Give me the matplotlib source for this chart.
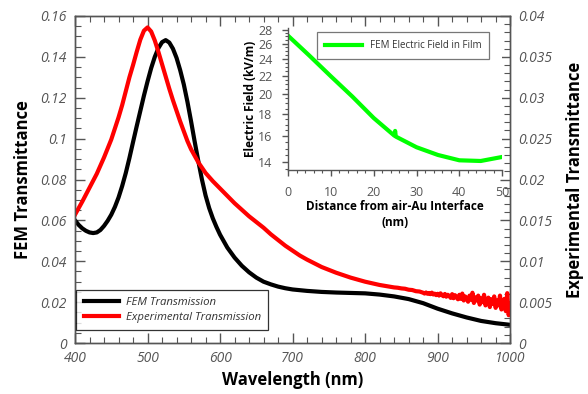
import matplotlib
matplotlib.use("Agg")
import matplotlib.pyplot as plt
from matplotlib.ticker import MultipleLocator, FormatStrFormatter, FuncFormatter, FixedLocator, NullFormatter

plt.rcParams['font.family'] = ['Open Sans', 'DejaVu Sans']

# ---- Data ----
fem_wl = [400, 405, 410, 415, 420, 425, 430, 435, 440, 445, 450, 455, 460, 465, 470, 475,
          480, 485, 490, 495, 500, 505, 510, 515, 520, 525, 530, 535, 540, 545, 550, 555,
          560, 565, 570, 575, 580, 585, 590, 595, 600, 610, 620, 630, 640, 650, 660, 670,
          680, 690, 700, 720, 740, 760, 780, 800, 820, 840, 860, 880, 900, 920, 940, 960,
          980, 1000]
fem_t = [0.0600, 0.0578, 0.0561, 0.0549, 0.0541, 0.0538, 0.0541, 0.0553, 0.0573, 0.0598,
         0.0628, 0.0666, 0.0712, 0.0768, 0.0832, 0.0905, 0.0983, 0.1060, 0.1135, 0.1210,
         0.1280, 0.1345, 0.1400, 0.1443, 0.1472, 0.1482, 0.1470, 0.1440, 0.1395, 0.1335,
         0.1265, 0.1180, 0.1085, 0.0985, 0.0890, 0.0800, 0.0722, 0.0660, 0.0610, 0.0568,
         0.0530, 0.0467, 0.0418, 0.0378, 0.0346, 0.0320, 0.0300, 0.0287, 0.0276, 0.0268,
         0.0262, 0.0255, 0.0250, 0.0247, 0.0245, 0.0243, 0.0237, 0.0228, 0.0215, 0.0195,
         0.0168, 0.0145, 0.0125, 0.0108, 0.0097, 0.0089]

exp_wl = [400, 410, 420, 430, 440, 450, 460, 465, 470, 475, 480, 485, 490, 495, 500, 505,
          510, 515, 520, 525, 530, 535, 540, 545, 550, 555, 560, 570, 580, 590, 600, 610,
          620, 630, 640, 650, 660, 670, 680, 690, 700, 710, 720, 740, 760, 780, 800, 820,
          840, 845, 850, 855, 860, 865, 870, 875,
          880, 882, 884, 886, 888, 890, 892, 894, 896, 898, 900, 902, 904, 906, 908, 910,
          912, 914, 916, 918, 920, 922, 924, 926, 928, 930, 932, 934, 936, 938, 940, 942,
          944, 946, 948, 950, 952, 954, 956, 958, 960, 962, 964, 966, 968, 970, 972, 974,
          976, 978, 980, 982, 984, 986, 988, 990, 992, 994, 996, 998, 1000]
exp_t = [0.0157, 0.0173, 0.0190, 0.0207, 0.0227, 0.0249, 0.0276, 0.0291, 0.0308, 0.0325,
         0.0340, 0.0356, 0.0371, 0.0382, 0.0386, 0.0381, 0.0370, 0.0356, 0.0341, 0.0326,
         0.0311, 0.0297, 0.0284, 0.0271, 0.0259, 0.0247, 0.0237, 0.0221, 0.0208, 0.0198,
         0.0189, 0.0180, 0.0171, 0.0163, 0.0155, 0.0148, 0.0141, 0.0133, 0.0126, 0.0119,
         0.0113, 0.0107, 0.0102, 0.0093, 0.0086, 0.0080, 0.0075, 0.0071,
         0.00680, 0.00676, 0.00668, 0.00664, 0.00652, 0.00648, 0.00634, 0.00630,
         0.00615, 0.00605, 0.00618, 0.00602, 0.00612, 0.00598, 0.00616, 0.00594, 0.00604,
         0.00586, 0.00602, 0.00580, 0.00608, 0.00585, 0.00572, 0.00600, 0.00566, 0.00590,
         0.00575, 0.00552, 0.00598, 0.00548, 0.00585, 0.00560, 0.00535, 0.00590, 0.00540,
         0.00605, 0.00520, 0.00570, 0.00545, 0.00505, 0.00580, 0.00530, 0.00615, 0.00490,
         0.00560, 0.00520, 0.00580, 0.00470, 0.00545, 0.00500, 0.00590, 0.00460, 0.00530,
         0.00555, 0.00440, 0.00535, 0.00480, 0.00570, 0.00430, 0.00520, 0.00460, 0.00580,
         0.00410, 0.00500, 0.00540, 0.00390, 0.00610, 0.00340, 0.00480]

dist_nm = [0, 5, 10, 15, 20, 24.8, 25.0, 25.15, 30, 35, 40, 45, 50]
efield = [27.1, 24.4, 21.9, 19.7, 17.6, 16.05, 16.45, 15.97, 15.1, 14.5, 14.1, 14.05, 14.35]

# ---- Figure ----
fig = plt.figure(figsize=(5.88, 3.94), dpi=100)
ax = fig.add_axes([0.1276, 0.1294, 0.740, 0.830])
ax2 = ax.twinx()

spine_c = '#555555'
tick_c = '#555555'

l1, = ax.plot(fem_wl, fem_t, color='black', lw=3.0, label='FEM Transmission',
              solid_joinstyle='round')
l2, = ax2.plot(exp_wl, exp_t, color='#ff0000', lw=3.0, label='Experimental Transmission',
               solid_joinstyle='round')

ax.set_xlim(400, 1000)
ax.set_ylim(0, 0.16)
ax2.set_ylim(0, 0.04)

ax.xaxis.set_major_locator(MultipleLocator(100))
ax.xaxis.set_minor_locator(MultipleLocator(20))
ax.yaxis.set_major_locator(MultipleLocator(0.02))
ax.yaxis.set_minor_locator(MultipleLocator(0.005))
ax2.yaxis.set_major_locator(MultipleLocator(0.005))
ax2.yaxis.set_minor_locator(MultipleLocator(0.001))

fmt = FuncFormatter(lambda v, p: ('%g' % round(v, 6)))
ax.yaxis.set_major_formatter(fmt)
ax2.yaxis.set_major_formatter(fmt)
ax.xaxis.set_major_formatter(fmt)

for a in (ax, ax2):
    for s in a.spines.values():
        s.set_color(spine_c)
        s.set_linewidth(1.0)

ax.tick_params(axis='x', which='both', direction='in', top=True, bottom=True, colors=spine_c,
               labelcolor=tick_c, labelsize=10, pad=6)
ax.tick_params(axis='y', which='both', direction='in', left=True, right=False, colors=spine_c,
               labelcolor=tick_c, labelsize=10, pad=6)
ax2.tick_params(axis='y', which='both', direction='in', right=True, colors=spine_c,
                labelcolor=tick_c, labelsize=10, pad=6)
for a in (ax, ax2):
    a.tick_params(which='major', length=7, width=1.0)
    a.tick_params(which='minor', length=4, width=0.8)
for lab in ax.get_xticklabels() + ax.get_yticklabels() + ax2.get_yticklabels():
    lab.set_fontstyle('italic')

ax.set_xlabel('Wavelength (nm)', fontsize=12, fontweight='bold', labelpad=3)
ax.set_ylabel('FEM Transmittance', fontsize=12, fontweight='bold', labelpad=6)
ax2.set_ylabel('Experimental Transmittance', fontsize=12, fontweight='bold', labelpad=10,
               rotation=90)

leg = ax2.legend(handles=[l1, l2], loc='lower left', bbox_to_anchor=(0.003, 0.04),
                 fontsize=8.2, frameon=True, fancybox=False, handlelength=3.1,
                 borderpad=0.65, labelspacing=0.3, handletextpad=0.6, borderaxespad=0.0)
leg.get_frame().set_edgecolor('black')
leg.get_frame().set_linewidth(0.9)
for t in leg.get_texts():
    t.set_fontstyle('italic')
    t.set_color('#333333')

# ---- Inset ----
ins = fig.add_axes([0.490, 0.5685, 0.364, 0.360])
ins.plot(dist_nm, efield, color='#00ff00', lw=3.0, label='FEM Electric Field in Film')
ins.set_yscale('log')
ins.set_xlim(0, 50)
ins.set_ylim(13.4, 28.2)
ins.yaxis.set_major_locator(FixedLocator([14, 16, 18, 20, 22, 24, 26, 28]))
ins.yaxis.set_major_formatter(FormatStrFormatter('%d'))
ins.yaxis.set_minor_locator(FixedLocator([13.5 + 0.5 * i for i in range(30) if (13.5 + 0.5 * i) % 2 != 0]))
ins.yaxis.set_minor_formatter(NullFormatter())
ins.xaxis.set_major_locator(MultipleLocator(10))
ins.xaxis.set_minor_locator(MultipleLocator(2))
ins.spines['top'].set_visible(False)
ins.spines['right'].set_visible(False)
for s in ('left', 'bottom'):
    ins.spines[s].set_color('#555555')
    ins.spines[s].set_linewidth(1.0)
ins.tick_params(which='both', direction='out', colors='#555555', labelcolor='#555555', labelsize=9)
ins.tick_params(which='major', length=4.3, width=1.0, pad=7)
ins.tick_params(which='minor', length=2.2, width=0.8)
ins.set_xlabel('Distance from air-Au Interface\n(nm)', fontsize=8.5, fontweight='bold',
               labelpad=1, linespacing=1.25)
ins.set_ylabel('Electric Field (kV/m)', fontsize=8.5, fontweight='bold', labelpad=1)
ileg = ins.legend(loc='upper right', bbox_to_anchor=(0.94, 0.97), fontsize=7, frameon=True,
                  fancybox=False, handlelength=3.8, borderpad=0.8, borderaxespad=0.0)
ileg.get_frame().set_edgecolor('#555555')
ileg.get_frame().set_linewidth(0.9)
for t in ileg.get_texts():
    t.set_color('#333333')

fig.savefig('out.png', dpi=100)
